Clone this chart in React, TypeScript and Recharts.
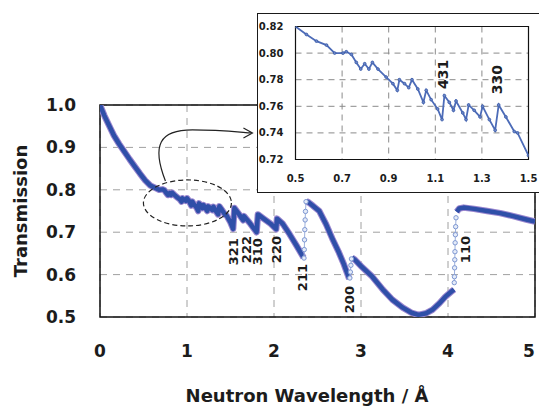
import {
  LineChart, Line, XAxis, YAxis, CartesianGrid, ReferenceArea, ReferenceDot, Label,
} from 'recharts'

type Pt = [number, number]

// [wavelength Å, transmission] – main curve split at the big Bragg edges
const curveBelow211: Pt[] = [
  [0.0, 1.0], [0.02, 0.99], [0.05, 0.975], [0.08, 0.962], [0.12, 0.945], [0.16, 0.928],
  [0.22, 0.908], [0.28, 0.89], [0.34, 0.872], [0.4, 0.855], [0.46, 0.838], [0.52, 0.822],
  [0.58, 0.81], [0.63, 0.805], [0.68, 0.8], [0.72, 0.801], [0.74, 0.799], [0.76, 0.793],
  [0.78, 0.788], [0.8, 0.792], [0.815, 0.788], [0.83, 0.793], [0.855, 0.788], [0.89, 0.782],
  [0.92, 0.777], [0.937, 0.772], [0.946, 0.78], [0.968, 0.777], [0.986, 0.774], [1.0, 0.78],
  [1.025, 0.773], [1.049, 0.763], [1.061, 0.772], [1.082, 0.765], [1.11, 0.758], [1.129, 0.75],
  [1.139, 0.768], [1.16, 0.763], [1.178, 0.757], [1.189, 0.764], [1.218, 0.755], [1.232, 0.75],
  [1.243, 0.761], [1.267, 0.757], [1.292, 0.752], [1.303, 0.76], [1.332, 0.75], [1.357, 0.742],
  [1.372, 0.761], [1.403, 0.752], [1.439, 0.741], [1.453, 0.74], [1.5, 0.723], [1.53, 0.708],
  [1.545, 0.757], [1.6, 0.742], [1.645, 0.728], [1.655, 0.738], [1.72, 0.722], [1.8, 0.7],
  [1.815, 0.742], [1.88, 0.732], [1.96, 0.72], [2.025, 0.707], [2.035, 0.732], [2.1, 0.72],
  [2.18, 0.695], [2.26, 0.668], [2.34, 0.64],
]
const edge211: Pt[] = [
  [2.345, 0.639], [2.348, 0.659], [2.351, 0.682], [2.354, 0.706], [2.358, 0.729],
  [2.362, 0.749], [2.368, 0.772],
]
const curve211to200: Pt[] = [
  [2.37, 0.773], [2.4, 0.77], [2.45, 0.762], [2.52, 0.75], [2.6, 0.718], [2.67, 0.685],
  [2.74, 0.655], [2.8, 0.626], [2.865, 0.59],
]
const edge200: Pt[] = [[2.872, 0.592], [2.878, 0.606], [2.884, 0.622], [2.89, 0.637]]
const curve200to110: Pt[] = [
  [2.895, 0.64], [2.93, 0.635], [3.0, 0.62], [3.13, 0.595], [3.25, 0.565], [3.36, 0.541],
  [3.48, 0.522], [3.58, 0.51], [3.66, 0.505], [3.75, 0.509], [3.82, 0.517], [3.9, 0.532],
  [3.97, 0.548], [4.04, 0.56], [4.07, 0.565],
]
const edge110: Pt[] = [
  [4.072, 0.581], [4.074, 0.595], [4.076, 0.616], [4.078, 0.635], [4.08, 0.654],
  [4.082, 0.675], [4.085, 0.694], [4.088, 0.713], [4.092, 0.734],
]
const curveAbove110: Pt[] = [
  [4.1, 0.748], [4.13, 0.756], [4.18, 0.758], [4.3, 0.755], [4.45, 0.75], [4.6, 0.745],
  [4.75, 0.738], [4.9, 0.73], [5.0, 0.725],
]

// zoomed region 0.5–1.5 Å
const insetCurve: Pt[] = [
  [0.5, 0.82], [0.547, 0.814], [0.59, 0.809], [0.633, 0.806], [0.668, 0.8], [0.704, 0.8],
  [0.718, 0.801], [0.74, 0.799], [0.761, 0.793], [0.78, 0.788], [0.797, 0.792], [0.815, 0.788],
  [0.83, 0.793], [0.854, 0.788], [0.889, 0.782], [0.918, 0.777], [0.937, 0.772], [0.946, 0.78],
  [0.968, 0.777], [0.986, 0.774], [1.0, 0.78], [1.025, 0.773], [1.049, 0.763], [1.061, 0.772],
  [1.082, 0.765], [1.11, 0.758], [1.129, 0.75], [1.139, 0.768], [1.16, 0.763], [1.178, 0.757],
  [1.189, 0.764], [1.218, 0.755], [1.232, 0.75], [1.243, 0.761], [1.267, 0.757], [1.292, 0.752],
  [1.303, 0.76], [1.332, 0.75], [1.357, 0.742], [1.372, 0.761], [1.403, 0.752], [1.439, 0.741],
  [1.453, 0.74], [1.5, 0.723],
]

const mainXTicks = [0, 1, 2, 3, 4, 5]
const mainYTicks = [0.5, 0.6, 0.7, 0.8, 0.9, 1.0]
const insetXTicks = [0.5, 0.7, 0.9, 1.1, 1.3, 1.5]
const insetYTicks = [0.72, 0.74, 0.76, 0.78, 0.8, 0.82]

const mainEdgeLabels = [
  { hkl: '321', x: 1.53, y: 0.654 },
  { hkl: '222', x: 1.68, y: 0.659 },
  { hkl: '310', x: 1.815, y: 0.654 },
  { hkl: '220', x: 2.03, y: 0.659 },
  { hkl: '211', x: 2.33, y: 0.593 },
  { hkl: '200', x: 2.865, y: 0.541 },
  { hkl: '110', x: 4.2, y: 0.659 },
]
const insetEdgeLabels = [
  { hkl: '431', x: 1.131, y: 0.784 },
  { hkl: '330', x: 1.367, y: 0.78 },
]

const FONT = '"DejaVu Sans", sans-serif'
const INK = '#1c1c1c'

const rows = [
  ...curveBelow211.map(([x, t]) => ({ x, t, e: null })),
  ...edge211.map(([x, e]) => ({ x, t: null, e })),
  ...curve211to200.map(([x, t]) => ({ x, t, e: null })),
  ...edge200.map(([x, e]) => ({ x, t: null, e })),
  ...curve200to110.map(([x, t]) => ({ x, t, e: null })),
  ...edge110.map(([x, e]) => ({ x, t: null, e })),
  ...curveAbove110.map(([x, t]) => ({ x, t, e: null })),
]
const insetRows = insetCurve.map(([x, t]) => ({ x, t }))

const RotText = (size: number, text: string) => (p: any) => (
  <text
    x={p.cx} y={p.cy} transform={`rotate(-90 ${p.cx} ${p.cy})`}
    textAnchor="middle" dominantBaseline="central"
    fontFamily={FONT} fontWeight="bold" fontSize={size} fill={INK}
  >{text}</text>
)

const ZoomMarker = (p: any) => {
  const { cx, cy } = p
  return (
    <g fill="none" stroke="#222" strokeWidth={1.2}>
      <ellipse cx={cx} cy={cy} rx={44} ry={23} strokeDasharray="5 3" />
      <path d={`M ${cx - 22} ${cy - 22} C ${cx - 36} ${cy - 58}, ${cx - 28} ${cy - 73}, ${cx + 5} ${cy - 73} C ${cx + 30} ${cy - 73}, ${cx + 50} ${cy - 71}, ${cx + 64} ${cy - 70}`} />
      <path d={`M ${cx + 56} ${cy - 75} L ${cx + 65} ${cy - 70} L ${cx + 56} ${cy - 65}`} />
    </g>
  )
}

// keep the last label inside the page, as in the reference
const MainXTick = (p: any) => (
  <text x={Math.min(p.x, 529)} y={p.y} dy="0.71em" textAnchor="middle"
    fontFamily={FONT} fontWeight="bold" fontSize={17} fill={INK}>
    {p.payload.value}
  </text>
)

const mainTick = { fontFamily: FONT, fontWeight: 'bold', fontSize: 17, fill: INK }
const insetTick = { fontFamily: FONT, fontWeight: 'bold', fontSize: 10, fill: INK }

export default function App() {
  return (
    <div style={{ position: 'absolute', left: 0, top: 0, width: 539, height: 406, overflow: 'hidden', background: '#fff' }}>
      <LineChart width={539} height={406} data={rows} margin={{ top: 105, right: 4, bottom: 0, left: 0 }}>
        <CartesianGrid stroke="#a0a0a0" strokeDasharray="7 6" />
        <XAxis
          dataKey="x" type="number" domain={[0, 5]} ticks={mainXTicks} allowDataOverflow
          height={89} axisLine={false} tickLine={false} tickSize={0} tickMargin={28} tick={<MainXTick />}
        >
          <Label content={({ viewBox }: any) => (
            <text x={307} y={viewBox.y + 85} textAnchor="middle"
              fontFamily={FONT} fontWeight="bold" fontSize={18} fill={INK}>
              Neutron Wavelength / Å
            </text>
          )} />
        </XAxis>
        <YAxis
          type="number" domain={[0.5, 1.0]} ticks={mainYTicks} allowDataOverflow
          width={100} axisLine={false} tickLine={false} tickSize={0} tickMargin={24}
          tick={mainTick} tickFormatter={(v: number) => v.toFixed(1)}
        >
          <Label content={({ viewBox }: any) => {
            const cx = viewBox.x + 20
            const cy = viewBox.y + viewBox.height / 2
            return (
              <text x={cx} y={cy} transform={`rotate(-90 ${cx} ${cy})`} textAnchor="middle"
                dominantBaseline="central" fontFamily={FONT} fontWeight="bold" fontSize={18} fill={INK}>
                Transmission
              </text>
            )
          }} />
        </YAxis>
        <ReferenceArea x1={0} x2={5} y1={0.5} y2={1.0} fill="none" stroke="#111" strokeWidth={1.5} />
        <Line dataKey="t" stroke="#9a86cf" strokeWidth={6.5} dot={false} connectNulls={false}
          isAnimationActive={false} strokeLinejoin="round" />
        <Line dataKey="t" stroke="#2f4fa8" strokeWidth={4.5} dot={false} connectNulls={false}
          isAnimationActive={false} strokeLinejoin="round" />
        <Line dataKey="e" stroke="#9cb0dc" strokeWidth={1} connectNulls={false}
          dot={{ r: 2.2, stroke: '#7e97d2', strokeWidth: 1, fill: '#e4ebf8' }} isAnimationActive={false} />
        <ReferenceDot x={1.005} y={0.769} r={0} shape={ZoomMarker} />
        {mainEdgeLabels.map((l) => (
          <ReferenceDot key={l.hkl} x={l.x} y={l.y} r={0} shape={RotText(13, l.hkl)} />
        ))}
      </LineChart>

      <div style={{
        position: 'absolute', left: 257, top: 13, width: 290, height: 180, boxSizing: 'border-box',
        border: '1.5px solid #1a1a1a', background: '#fff',
      }}>
        <LineChart width={287} height={177} data={insetRows} margin={{ top: 12.5, right: 16.5, bottom: 0, left: 0 }}>
          <CartesianGrid stroke="#8a8a8a" strokeDasharray="6 5" />
          <XAxis
            dataKey="x" type="number" domain={[0.5, 1.5]} ticks={insetXTicks} allowDataOverflow
            height={31.5} axisLine={false} tickLine={false} tickSize={0} tickMargin={15}
            tick={insetTick} tickFormatter={(v: number) => v.toFixed(1)}
          />
          <YAxis
            type="number" domain={[0.72, 0.82]} ticks={insetYTicks} allowDataOverflow
            width={37.5} axisLine={false} tickLine={false} tickSize={0} tickMargin={12}
            tick={insetTick} tickFormatter={(v: number) => v.toFixed(2)}
          />
          <ReferenceArea x1={0.5} x2={1.5} y1={0.72} y2={0.82} fill="none" stroke="#111" strokeWidth={1.2} />
          <Line dataKey="t" stroke="#4d6cb8" strokeWidth={1.8} isAnimationActive={false}
            dot={{ r: 1.4, stroke: '#3a5aa8', strokeWidth: 0.8, fill: '#6d88c8' }} />
          {insetEdgeLabels.map((l) => (
            <ReferenceDot key={l.hkl} x={l.x} y={l.y} r={0} shape={RotText(14, l.hkl)} />
          ))}
        </LineChart>
      </div>
    </div>
  )
}
